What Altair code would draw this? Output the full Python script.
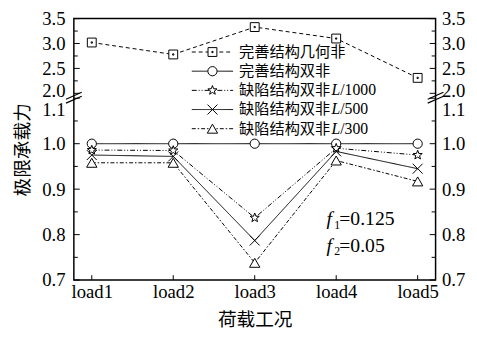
import math
import altair as alt
import pandas as pd

# ---------------- data ----------------
loads = ["load1", "load2", "load3", "load4", "load5"]
series = ["完善结构几何非", "完善结构双非", "缺陷结构双非L/1000", "缺陷结构双非L/500", "缺陷结构双非L/300"]
legend_cn = ["完善结构几何非", "完善结构双非", "缺陷结构双非", "缺陷结构双非", "缺陷结构双非"]
legend_suffix = ["", "", "/1000", "/500", "/300"]

geo_nonlinear = [3.02, 2.78, 3.33, 3.10, 2.31]
perfect_double = [1.0, 1.0, 1.0, 1.0, 1.0]
defect_1000 = [0.986, 0.985, 0.837, 0.990, 0.975]
defect_500 = [0.975, 0.972, 0.787, 0.983, 0.945]
defect_300 = [0.958, 0.958, 0.738, 0.963, 0.917]

y_major = [0.7, 0.8, 0.9, 1.0, 1.1, 2.0, 2.5, 3.0, 3.5]
y_minor = [0.75, 0.85, 0.95, 1.05, 2.25, 2.75, 3.25]

rows = []
for name, vals in zip(series, [geo_nonlinear, perfect_double, defect_1000, defect_500, defect_300]):
    for ld, v in zip(loads, vals):
        rows.append({"load": ld, "series": name, "value": v})
df = pd.DataFrame(rows)
legend_df = pd.DataFrame({"series": series, "cn": legend_cn, "suffix": legend_suffix})
major_df = pd.DataFrame({"value": y_major})
minor_df = pd.DataFrame({"value": y_minor})
loads_df = pd.DataFrame({"load": loads})
one = pd.DataFrame({"k": [0]})

# ---------------- styles ----------------
FONT = "Liberation Serif"
CJK = "Noto Sans CJK SC"
W, H = 368, 266
LEG_FS = 15.5


def star_path():
    pts = []
    for i in range(10):
        r = 1.0 if i % 2 == 0 else 0.42
        a = -math.pi / 2 + i * math.pi / 5
        pts.append(f"{r * math.cos(a):.3f},{r * math.sin(a):.3f}")
    return "M" + "L".join(pts) + "Z"


shapes = [
    "M-1,-1H1V1H-1Z M-0.14,-0.14H0.14V0.14H-0.14Z",
    "circle",
    star_path(),
    "M-1,-1L1,1M-1,1L1,-1",
    "M0,-0.87L1,0.87H-1Z",
]
sizes = [81, 110, 150, 70, 100]
dashes = [[4, 3], [1, 0], [5, 2, 1, 2, 1, 2], [1, 0], [4, 2, 1.5, 2]]

yscale = alt.Scale(domain=[0.7, 1.1, 2.0, 3.5], range=[H, 81, 76, 0], nice=False, zero=False)
xscale = alt.Scale(type="point", padding=0.22)

dash_enc = alt.StrokeDash("series:N", scale=alt.Scale(domain=series, range=dashes), legend=None)
shape_enc = alt.Shape("series:N", scale=alt.Scale(domain=series, range=shapes), legend=None)
size_enc = alt.Size("series:N", scale=alt.Scale(domain=series, range=sizes), legend=None)


def X(axis):
    return alt.X("load:N", sort=loads, scale=xscale, axis=axis)


def Y(axis):
    return alt.Y("value:Q", scale=yscale, axis=axis)


x_label_axis = alt.Axis(orient="bottom", ticks=False, domain=False, grid=False, labelAngle=0,
                        labelFont=FONT, labelFontSize=19, labelColor="black", labelPadding=3,
                        labelOverlap=False,
                        title="荷载工况", titleFont=CJK, titleFontSize=19, titleFontWeight="normal",
                        titleColor="black", titleY=40, titleBaseline="middle")

label_offset = {"condition": [{"test": "datum.value == 1.1", "value": 12},
                              {"test": "datum.value == 2", "value": -3}], "value": 0}

y_left_axis = alt.Axis(orient="left", values=y_major, format=".1f", ticks=False, domain=False, grid=False,
                       labelFont=FONT, labelFontSize=19, labelColor="black", labelPadding=9,
                       labelOffset=label_offset, labelOverlap=False,
                       title="极限承载力", titleFont=CJK, titleFontSize=19, titleFontWeight="normal",
                       titleColor="black", titleX=-52, titleY=H / 2, titleAngle=270,
                       titleAlign="center", titleBaseline="middle")
y_right_axis = alt.Axis(orient="right", values=y_major, format=".1f", ticks=False, domain=False, grid=False,
                        labelFont=FONT, labelFontSize=19, labelColor="black", labelPadding=6,
                        labelOffset=label_offset, labelOverlap=False, title=None)

base = alt.Chart(df)

lines = base.mark_line(stroke="black", strokeWidth=1).encode(
    x=X(x_label_axis), y=Y(y_left_axis), strokeDash=dash_enc, detail="series:N")
points = base.mark_point(filled=True, fill="white", stroke="black", strokeWidth=1, opacity=1).encode(
    x=X(None), y=Y(y_right_axis), shape=shape_enc, size=size_enc)


# inward ticks drawn through the scales
def ytick(data, x0, x1):
    return alt.Chart(data).mark_rule(stroke="black", strokeWidth=1).encode(
        y=Y(None), x=alt.value(x0), x2=alt.value(x1))


ticks = [
    ytick(major_df, 0, 6), ytick(minor_df, 0, 4),
    ytick(major_df, W - 6, W), ytick(minor_df, W - 4, W),
    alt.Chart(loads_df).mark_rule(stroke="black", strokeWidth=1).encode(
        x=X(None), y=alt.value(H - 5), y2=alt.value(H)),
]


def slash(x0, x1, y0, y1):
    return alt.Chart(one).mark_rule(stroke="black", strokeWidth=1.2).encode(
        x=alt.value(x0), x2=alt.value(x1), y=alt.value(y0), y2=alt.value(y1))


breaks = [slash(-8, 8, 82, 75), slash(-8, 8, 86, 79),
          slash(W - 8, W + 8, 82, 75), slash(W - 8, W + 8, 86, 79)]


def txt(s, x, y, size=20, italic=False, font=FONT):
    return alt.Chart(one).mark_text(text=s, font=font, fontSize=size, fontStyle="italic" if italic else "normal",
                                    align="left", baseline="middle", color="black").encode(
        x=alt.value(x), y=alt.value(y))


annot = [
    txt("f", 257, 204, italic=True), txt("1", 265, 210, size=12), txt("=0.125", 270, 204),
    txt("f", 257, 231, italic=True), txt("2", 265, 237, size=12), txt("=0.05", 270, 231),
]

main = alt.layer(lines, points, *ticks, *breaks, *annot).resolve_axis(x="independent", y="independent")

# ---------------- legend ----------------
leg_y = alt.Y("series:N", sort=series,
              scale=alt.Scale(type="point", domain=series, range=[34, 112], padding=0), axis=None)
lb = alt.Chart(legend_df)
leg_line = lb.mark_rule(stroke="black", strokeWidth=1).encode(
    x=alt.value(120), x2=alt.value(162), y=leg_y, strokeDash=dash_enc)
leg_pt = lb.mark_point(filled=True, fill="white", stroke="black", strokeWidth=1, opacity=1).encode(
    x=alt.value(141), y=leg_y, shape=shape_enc, size=size_enc)
leg_cn = lb.mark_text(font=CJK, fontSize=LEG_FS, align="left", baseline="middle", color="black").encode(
    x=alt.value(168), y=leg_y, text="cn:N")
leg_L = lb.mark_text(text="L", font=FONT, fontSize=16, fontStyle="italic", align="left",
                     baseline="middle", color="black").transform_filter("datum.suffix != ''").encode(
    x=alt.value(262), y=leg_y)
leg_suf = lb.mark_text(font=FONT, fontSize=16, align="left", baseline="middle", color="black").transform_filter(
    "datum.suffix != ''").encode(x=alt.value(271), y=leg_y, text="suffix:N")
legend = alt.layer(leg_line, leg_pt, leg_cn, leg_L, leg_suf)

chart = alt.layer(main, legend).resolve_scale(y="independent").properties(
    width=W, height=H, autosize="none",
    padding={"left": 67, "top": 8, "right": 34, "bottom": 48},
    background="white",
).configure_view(stroke="black", strokeWidth=1.5)

chart.save("out.html", embed_options={"renderer": "svg", "actions": False})
